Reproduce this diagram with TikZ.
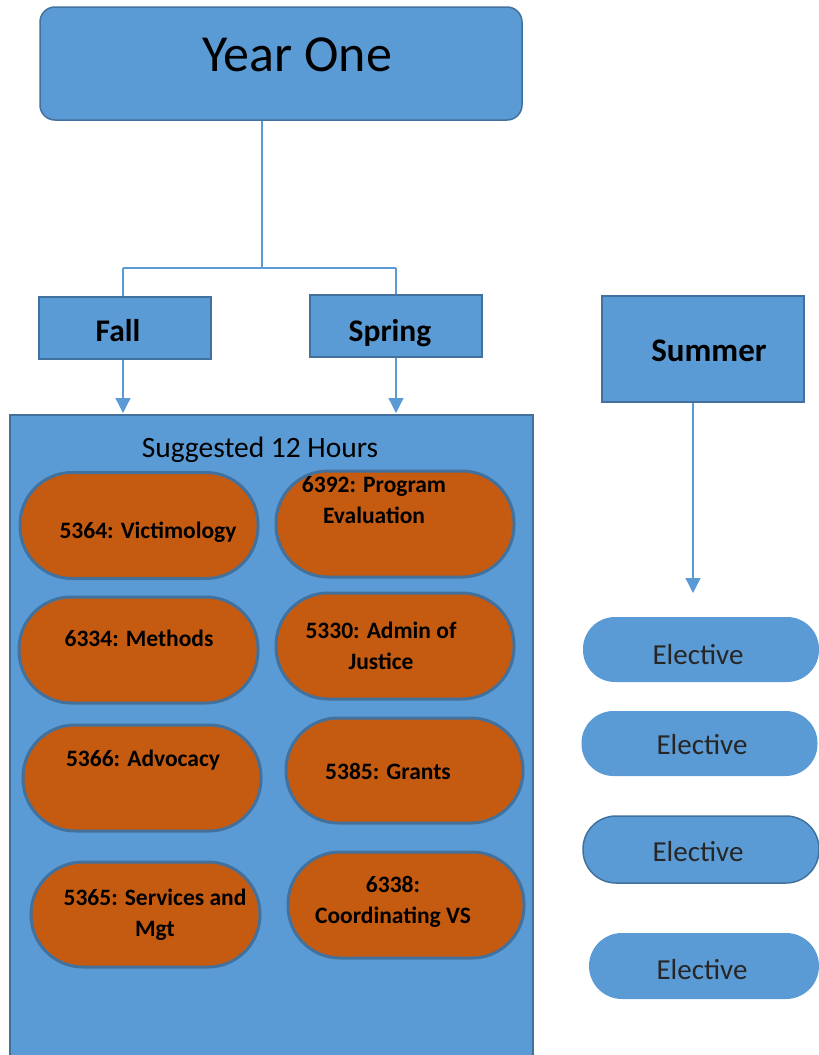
\documentclass[tikz,border=0pt]{standalone}
\usepackage{fontspec}
\setmainfont{Carlito}
\usetikzlibrary{arrows.meta}
\definecolor{bluef}{HTML}{5B9BD5}
\definecolor{bluee}{HTML}{41719C}
\definecolor{orangef}{HTML}{C55A11}
\tikzset{
  box/.style={draw=bluee, line width=1.5pt, fill=bluef, inner sep=0pt},
  course/.style={draw=bluee, line width=3pt, fill=orangef, inner sep=0pt, minimum height=106pt, rounded corners=52pt},
  ctext/.style={font=\fontsize{23.5}{31}\selectfont\bfseries, align=center, inner sep=0pt},
  elective/.style={fill=bluef, inner sep=0pt, minimum height=65pt, minimum width=236pt, rounded corners=32pt},
  etext/.style={inner sep=0pt, font=\fontsize{29}{32}\selectfont, text=black!85},
  conn/.style={draw=bluef, line width=1.3pt},
  arr/.style={conn, -{Triangle[width=15pt,length=15pt]}},
  seas/.style={font=\fontsize{31.5}{36}\selectfont\bfseries, inner sep=0pt}
}
\begin{document}
\begin{tikzpicture}[x=1pt,y=-1pt]
\useasboundingbox (0,0) rectangle (819,1055);
% Year One
\node[box, rounded corners=15pt, minimum width=482pt, minimum height=113pt] (year) at (281,63.5) {};
\node[inner sep=0pt, font=\fontsize{52}{60}\selectfont] (yeart) at (297,55) {Year One};
% Season boxes
\node[box, line width=1.2pt, minimum width=172pt, minimum height=62pt] (fall) at (125,328) {};
\node[seas] (fallt) at (118,331) {Fall};
\node[box, line width=1.2pt, minimum width=172pt, minimum height=62pt] (spring) at (396,326) {};
\node[seas] (springt) at (390,333) {Spring};
\node[box, line width=1.2pt, minimum width=202pt, minimum height=106pt] (summer) at (703,349) {};
\node[seas, font=\fontsize{33}{36}\selectfont\bfseries] (summert) at (709,351) {Summer};
% connectors from Year One
\coordinate (j) at (262,268);
\draw[conn] (year.south -| j) -- (j);
\draw[conn] (123,268) -- (396,268);
\draw[conn] (123,268) -- (fall.north -| 123,0);
\draw[conn] (396,268) -- (spring.north -| 396,0);
% main box
\node[draw=bluee, line width=1.2pt, fill=bluef, minimum width=523pt, minimum height=645pt, inner sep=0pt] (main) at (271.5,737.5) {};
\node[inner sep=0pt, font=\fontsize{29.5}{32}\selectfont] (sugg) at (260,450) {Suggested 12 Hours};
\coordinate (fa) at (123,413);
\coordinate (sa) at (396,413);
\draw[arr] (fall.south -| fa) -- (fa);
\draw[arr] (spring.south -| sa) -- (sa);
% courses left
\node[course, minimum width=238pt] (c1) at (139,525.5) {};
\node[ctext] at (148,532) {5364: Victimology};
\node[course, minimum width=239pt] (c2) at (138.5,650) {};
\node[ctext] at (139,638) {6334: Methods};
\node[course, minimum width=238pt] (c3) at (142,778) {};
\node[ctext] at (143,760) {5366: Advocacy};
\node[course, minimum width=229pt, minimum height=105pt] (c4) at (145.5,914.5) {};
\node[ctext] at (155,915) {5365: Services and\\Mgt};
% courses right
\node[course, minimum width=238pt] (c5) at (395,524) {};
\node[ctext] at (374,500) {6392: Program\\Evaluation};
\node[course, minimum width=238pt] (c6) at (395,646) {};
\node[ctext] at (381,646) {5330: Admin of\\Justice};
\node[course, minimum width=237pt, minimum height=105pt] (c7) at (404.5,770.5) {};
\node[ctext] at (388,771) {5385: Grants};
\node[course, minimum width=236pt] (c8) at (406,905) {};
\node[ctext] at (393,902) {6338:\\Coordinating VS};
% Summer
\coordinate (ua) at (693,593);
\draw[arr] (summer.south -| ua) -- (ua);
\node[elective] (e1) at (701,649.5) {};
\node[etext] at (698,655) {Elective};
\node[elective] (e2) at (699.5,743.5) {};
\node[etext] at (702,745) {Elective};
\node[elective, draw=bluee, line width=1.5pt, minimum height=67pt, rounded corners=33pt] (e3) at (701,849.5) {};
\node[etext] at (698,852) {Elective};
\node[elective, minimum width=230pt, minimum height=66pt, rounded corners=33pt] (e4) at (704,966) {};
\node[etext] at (702,970) {Elective};
\end{tikzpicture}
\end{document}
